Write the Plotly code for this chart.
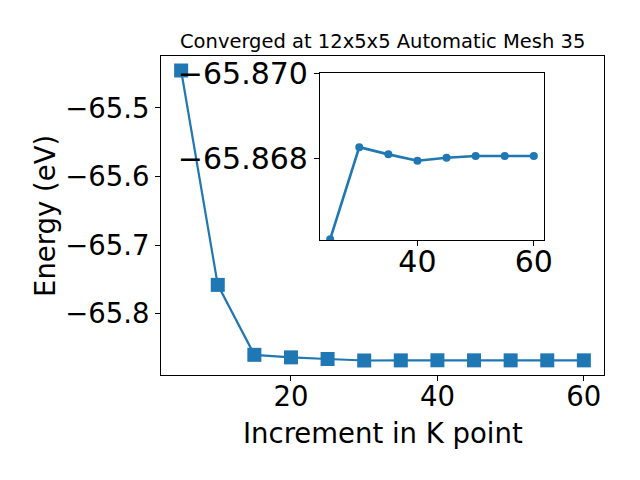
import plotly.graph_objects as go

# Data
k_points = [5, 10, 15, 20, 25, 30, 35, 40, 45, 50, 55, 60]
energy = [-65.4455, -65.758, -65.8600, -65.8637, -65.8661, -65.86826,
          -65.86809, -65.86794, -65.86801, -65.86805, -65.86805, -65.86805]
inset_start = 4  # inset shows k = 25 .. 60

main_yticks = [-65.5, -65.6, -65.7, -65.8]
main_xticks = [20, 40, 60]
inset_yticks = [-65.870, -65.868]
inset_xticks = [40, 60]

title_text = "Converged at 12x5x5 Automatic Mesh 35"
xlabel = "Increment in K point"
ylabel = "Energy (eV)"

W, H = 640, 480
OFF = 8  # default page body margin shifts the figure by 8px
BLUE = "#1f77b4"
FONT = "DejaVu Sans"


def fmt(v, nd):
    s = f"{abs(v):.{nd}f}"
    return ("\u2212" + s) if v < 0 else s


def px(x):
    return (x - OFF) / W


def py(y):
    return 1 - (y - OFF) / H


# pixel geometry (target pixels in the screenshot)
mx0, mx1, my0, my1 = 161, 604, 56, 375  # main axes (top y0, bottom y1)
ix0, ix1, iy0, iy1 = 320, 544, 73, 240  # inset axes

fig = go.Figure()
fig.add_trace(go.Scatter(
    x=k_points, y=energy, mode="lines+markers",
    line=dict(color=BLUE, width=2.2),
    marker=dict(symbol="square", size=14, color=BLUE),
    xaxis="x", yaxis="y", showlegend=False))
fig.add_trace(go.Scatter(
    x=k_points[inset_start:], y=energy[inset_start:], mode="lines+markers",
    line=dict(color=BLUE, width=2.6),
    marker=dict(symbol="circle", size=8, color=BLUE),
    xaxis="x2", yaxis="y2", showlegend=False, cliponaxis=True))


def axis_common(fs):
    return dict(showgrid=False, zeroline=False, showline=True, mirror=True,
                linecolor="black", linewidth=1.1, ticks="outside", ticklen=5,
                tickwidth=1.1, tickcolor="black", automargin=False,
                tickfont=dict(family=FONT, size=fs, color="black"))


xmin, xmax = min(k_points), max(k_points)
xm = 0.05 * (xmax - xmin)
ymin, ymax = min(energy), max(energy)
ym = 0.05 * (ymax - ymin)
ixmin = min(k_points[inset_start:])
ixm = 0.05 * (xmax - ixmin)

fig.update_layout(
    width=W, height=H, autosize=False,
    margin=dict(l=0, r=0, t=0, b=0, pad=0, autoexpand=False),
    paper_bgcolor="white", plot_bgcolor="rgba(0,0,0,0)",
    xaxis=dict(domain=[px(mx0), px(mx1)], anchor="y",
               range=[xmin - xm, xmax + xm], ticklabelstandoff=-8,
               tickvals=main_xticks, ticktext=[str(t) for t in main_xticks],
               **axis_common(27.5)),
    yaxis=dict(domain=[py(my1), py(my0)], anchor="x",
               range=[ymin - ym, ymax + ym],
               tickvals=main_yticks, ticktext=[fmt(t, 1) for t in main_yticks],
               **axis_common(27.5)),
    xaxis2=dict(domain=[px(ix0), px(ix1)], anchor="y2",
                range=[ixmin - ixm, xmax + ixm], ticklabelstandoff=-10,
                tickvals=inset_xticks, ticktext=[str(t) for t in inset_xticks],
                **axis_common(30)),
    yaxis2=dict(domain=[py(iy1), py(iy0)], anchor="x2",
                range=[-65.86608, -65.870],
                tickvals=inset_yticks, ticktext=[fmt(t, 3) for t in inset_yticks],
                **axis_common(30)),
    annotations=[
        dict(text=title_text, xref="paper", yref="paper",
             x=px((mx0 + mx1) / 2), y=py(42), xanchor="center", yanchor="middle",
             showarrow=False, font=dict(family=FONT, size=19.5, color="black")),
        dict(text=xlabel, xref="paper", yref="paper",
             x=px((mx0 + mx1) / 2), y=py(433), xanchor="center", yanchor="middle",
             showarrow=False, font=dict(family=FONT, size=27.5, color="black")),
        dict(text=ylabel, xref="paper", yref="paper", textangle=-90,
             x=px(45), y=py(216), xanchor="center", yanchor="middle",
             showarrow=False, font=dict(family=FONT, size=27.5, color="black")),
    ],
)

fig.write_html("out.html")
